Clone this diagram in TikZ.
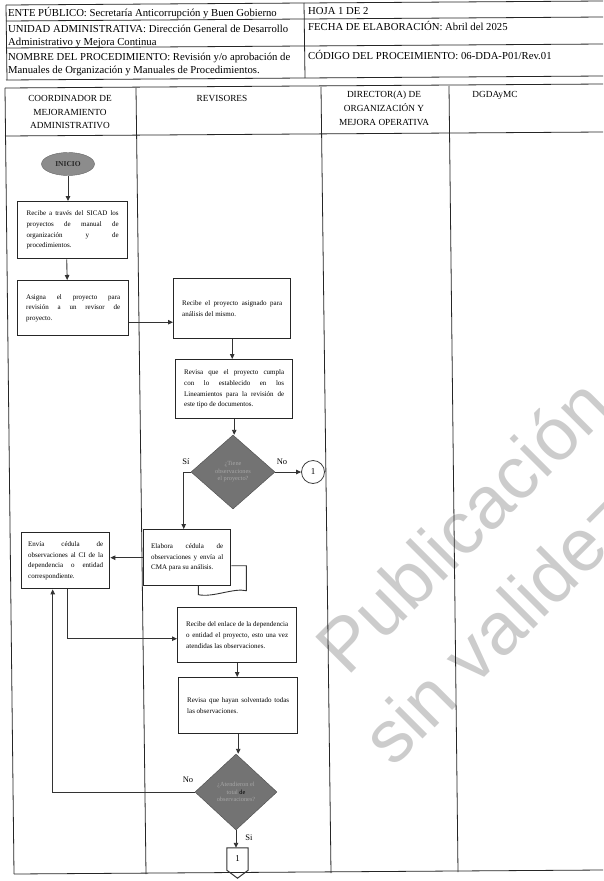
\documentclass[tikz,border=0pt]{standalone}
\usepackage{fontspec}
\setmainfont{Liberation Serif}
\newfontfamily\wmfont{Liberation Sans}
\usetikzlibrary{arrows.meta,shapes.geometric,calc}

\begin{document}
\begin{tikzpicture}[x=1pt,y=-1pt,
  line/.style={draw=black!85, line width=0.8pt},
  arr/.style={draw=black!80, line width=0.9pt, -{Triangle[length=5pt,width=4.5pt]}},
  proc/.style={draw=black!85, line width=1.4pt, fill=white, inner sep=0pt, anchor=north west,
    align=justify, font=\fontsize{7}{10.6}\selectfont},
  hdr/.style={anchor=base west, inner sep=0pt, font=\fontsize{10.7}{13}\selectfont},
  lane/.style={align=center, inner sep=0pt, font=\fontsize{9.3}{13.7}\selectfont},
  decision/.style={diamond, draw=black!70, fill=black!55, inner sep=0pt, align=center,
    text=black!35, font=\fontsize{6.3}{7.5}\selectfont},
  lbl/.style={inner sep=0pt, font=\fontsize{8.5}{10}\selectfont},
  wm/.style={text=black!20, font=\wmfont\fontsize{74}{80}\selectfont, inner sep=0pt}
]
\useasboundingbox (0,0) rectangle (603,881);
\fill[white] (0,0) rectangle (603,881);

% watermark
\node[wm, rotate=45] (wm1) at (462,525) {Publicación};
\node[wm, rotate=45] (wm2) at (497,628) {sin validez};

% header table
\draw[line] (6,5) -- (603,1);
\draw[line] (6,21) -- (603,17);
\draw[line] (6,48) -- (603,44);
\draw[line] (6,80) -- (603,76);
\draw[line] (6,5) -- (7,80);
\draw[line] (304,3) -- (305,78);

\node[hdr] (h1) at (8,16) {ENTE PÚBLICO: Secretaría Anticorrupción y Buen Gobierno};
\node[hdr] (h2) at (8,32.5) {UNIDAD ADMINISTRATIVA: Dirección General de Desarrollo};
\node[hdr] (h3) at (8,45) {Administrativo y Mejora Continua};
\node[hdr] (h4) at (8,60.5) {NOMBRE DEL PROCEDIMIENTO: Revisión y/o aprobación de};
\node[hdr] (h5) at (8,73.5) {Manuales de Organización y Manuales de Procedimientos.};
\node[hdr] (h6) at (308,14.5) {HOJA 1 DE 2};
\node[hdr] (h7) at (308,30) {FECHA DE ELABORACIÓN: Abril del 2025};
\node[hdr] (h8) at (308,59) {CÓDIGO DEL PROCEIMIENTO: 06-DDA-P01/Rev.01};

% swimlane table
\draw[line] (5,88) -- (603,84);
\draw[line] (5,136) -- (603,132);
\draw[line] (14,874) -- (603,870);
\draw[line] (5,88) -- (14,874);
\draw[line] (136,88) -- (146,874);
\draw[line] (321,87) -- (331,873);
\draw[line] (449,86) -- (458,872);

\node[lane] (l1) at (70,112) {COORDINADOR DE\\MEJORAMIENTO\\ADMINISTRATIVO};
\node[lane] (l2) at (222,98) {REVISORES};
\node[lane] (l3) at (384,108.5) {DIRECTOR(A) DE\\ORGANIZACIÓN Y\\MEJORA OPERATIVA};
\node[lane] (l4) at (495,95) {DGDAyMC};

% flow
\node[ellipse, draw=black!60, fill=black!45, minimum width=53pt, minimum height=23pt, inner sep=0pt,
  font=\bfseries\fontsize{7.5}{9}\selectfont, text=black!85] (ini) at (68,164) {INICIO};

\node[proc, minimum width=110pt, minimum height=57pt, text width=92pt] (b1) at (17,201)
  {Recibe a través del SICAD los\linebreak proyectos de manual de\linebreak organización y de\linebreak procedimientos.};
\node[proc, minimum width=111pt, minimum height=55pt, text width=94pt] (b2) at (17,280)
  {Asigna el proyecto para\linebreak revisión a un revisor de\linebreak proyecto.};
\node[proc, minimum width=117pt, minimum height=60pt, text width=100pt] (b3) at (173,278)
  {Recibe el proyecto asignado para\linebreak análisis del mismo.};
\node[proc, minimum width=117pt, minimum height=59pt, text width=100pt] (b4) at (175,359)
  {Revisa que el proyecto cumpla\linebreak con lo establecido en los\linebreak Lineamientos para la revisión de\linebreak este tipo de documentos.};
\node[decision, minimum width=84pt, minimum height=74pt] (d1) at (233,472)
  {¿Tiene\\observaciones\\el proyecto?};
\node[circle, draw=black!75, line width=0.8pt, minimum size=23pt, inner sep=0pt,
  font=\fontsize{9}{10}\selectfont] (c1) at (313,472) {1};
\node[proc, minimum width=87pt, minimum height=56pt, text width=72pt] (b5) at (143,529)
  {Elabora cédula de\linebreak observaciones y envía al\linebreak CMA para su análisis.};
\node[proc, minimum width=88pt, minimum height=56pt, text width=75pt] (b6) at (21,532)
  {Envía cédula de\linebreak observaciones al CI de la\linebreak dependencia o entidad\linebreak correspondiente.};
\node[proc, minimum width=119pt, minimum height=55pt, text width=102pt] (b7) at (177,607)
  {Recibe del enlace de la dependencia\linebreak o entidad el proyecto, esto una vez\linebreak atendidas las observaciones.};
\node[proc, minimum width=119pt, minimum height=56pt, text width=102pt] (b8) at (178,677)
  {Revisa que hayan solventado todas\linebreak las observaciones.};
\node[decision, minimum width=82pt, minimum height=76pt] (d2) at (236,792)
  {¿Atendieron el\\total \textcolor{black}{de}\\observaciones?};
\node[inner sep=0pt, minimum width=21pt, minimum height=22pt,
  font=\fontsize{9}{10}\selectfont] (pg) at (237.5,859) {1};
\draw[draw=black!80, line width=1pt] (pg.north west) -- (pg.north east) -- (pg.south east)
  -- ($(pg.south)+(0,8)$) -- (pg.south west) -- cycle;

% second sheet behind the observation form
\draw[draw=black!80, line width=0.9pt] ([yshift=-8pt]b5.east) -- ++(15,0) -- ++(0,25)
  .. controls +(-13,-3) and +(15,3) .. ++(-48,4) -- ++(0,-9);

% connectors
\draw[arr] (ini.south) -- (ini.south |- b1.north);
\draw[arr] ([xshift=-6pt]b1.south) -- ([xshift=-6pt]b2.north);
\draw[arr] ([yshift=-14pt]b2.east) -- ([yshift=-14pt]b2.east -| b3.west);
\draw[arr] (b3.south) -- (b3.south |- b4.north);
\draw[arr] (b4.south) -- (b4.south |- d1.north);
\draw[arr] (d1.east) -- (c1.west);
\draw[arr] (d1.west) -| ([xshift=-3.5pt]b5.north);
\draw[arr] (b5.west) -- (b5.west -| b6.east);
\draw[arr] ([xshift=2pt]b6.south) |- ([yshift=-3.5pt]b7.west);
\draw[arr] (b7.south) -- (b7.south |- b8.north);
\draw[arr] (b8.south) -- (b8.south |- d2.north);
\draw[arr] (d2.west) -| ([xshift=-13pt]b6.south);
\draw[arr] (d2.south) -- (d2.south |- pg.north);

\node[lbl] (no1) at (282,462) {No};
\node[lbl] (si1) at (186,462) {Sí};
\node[lbl] (no2) at (188,780) {No};
\node[lbl] (si2) at (249,838) {Si};
\end{tikzpicture}
\end{document}
